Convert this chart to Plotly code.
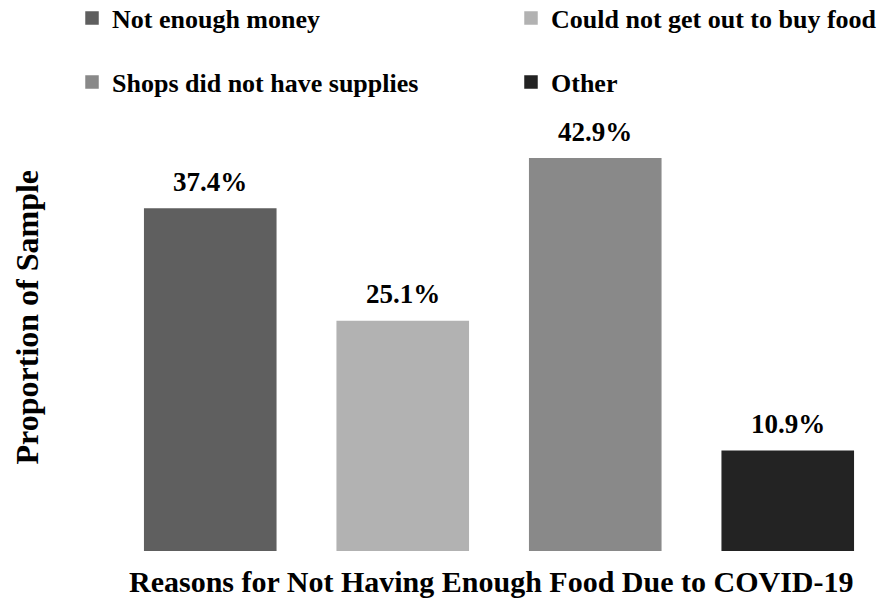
import plotly.graph_objects as go

categories = ["Not enough money", "Could not get out to buy food",
              "Shops did not have supplies", "Other"]
values = [37.4, 25.1, 42.9, 10.9]
colors = ["#5f5f5f", "#b2b2b2", "#898989", "#232323"]
legend_ids = ["legend", "legend2", "legend3", "legend4"]
# legend slot (column, row) for each series
legend_slots = [(0, 0), (1, 0), (0, 1), (1, 1)]

FONT = "Liberation Serif, Times New Roman, serif"

fig = go.Figure()
for cat, val, col, lg in zip(categories, values, colors, legend_ids):
    fig.add_trace(go.Bar(
        x=[cat], y=[val], name=cat,
        marker=dict(color=col, line=dict(color=col, width=1.5)),
        legend=lg, hoverinfo="skip",
    ))
    fig.add_annotation(
        x=cat, y=val, xref="x", yref="y", text=f"{val:.1f}%",
        showarrow=False, yanchor="bottom", yshift=10,
        font=dict(family=FONT, size=27, color="#000000", weight="bold"),
    )

fig.add_annotation(
    x=0.49, y=-0.072, xref="paper", yref="paper",
    text="Reasons for Not Having Enough Food Due to COVID-19",
    showarrow=False, xanchor="center", yanchor="middle",
    font=dict(family=FONT, size=30, color="#000000", weight="bold"),
)
fig.add_annotation(
    x=-0.113, y=0.548, xref="paper", yref="paper",
    text="Proportion of Sample", textangle=-90,
    showarrow=False, xanchor="center", yanchor="middle",
    font=dict(family=FONT, size=32, color="#000000", weight="bold"),
)

col_x = [0.0810, 0.5748]
row_y = [0.9700, 0.8636]
legends = {}
for lg, (c, r) in zip(legend_ids, legend_slots):
    legends[lg] = dict(
        orientation="h", xanchor="left", yanchor="middle",
        xref="container", yref="container",
        x=col_x[c], y=row_y[r],
        font=dict(family=FONT, size=26, color="#000000", weight="bold"),
        bgcolor="rgba(0,0,0,0)",
    )

fig.update_layout(
    width=889, height=601,
    margin=dict(l=114, r=5, t=123, b=50),
    paper_bgcolor="#ffffff", plot_bgcolor="#ffffff",
    font=dict(family=FONT, color="#000000", weight="bold"),
    barmode="overlay", bargap=0.319,
    showlegend=True,
    xaxis=dict(categoryorder="array", categoryarray=categories,
               showticklabels=False, showline=False, showgrid=False,
               zeroline=False, ticks=""),
    yaxis=dict(range=[0, 46.8], showticklabels=False, showline=False,
               showgrid=False, zeroline=False, ticks=""),
    **legends,
)

fig.write_html("out.html")
